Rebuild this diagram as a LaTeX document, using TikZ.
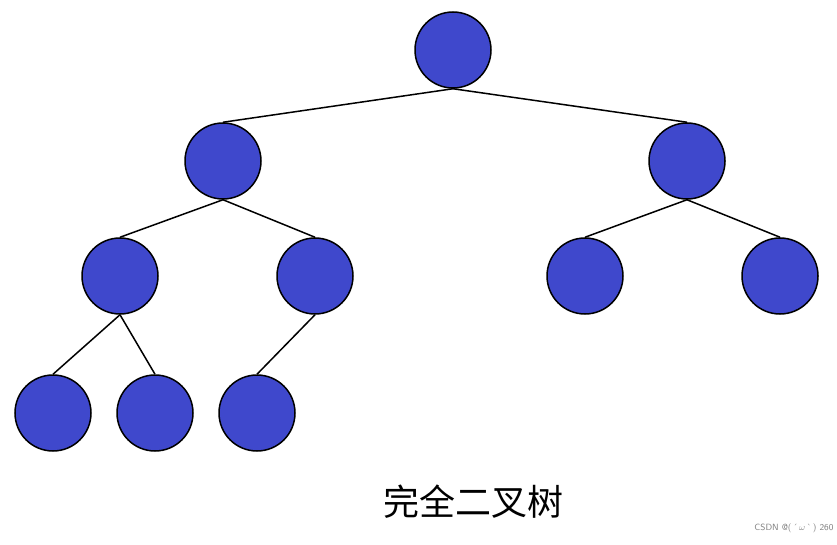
\documentclass[tikz,border=0pt]{standalone}
\usepackage{fontspec}
\newfontfamily\cjk{Noto Sans CJK SC}
\definecolor{nodeblue}{HTML}{3F48CC}
\begin{document}
\begin{tikzpicture}[x=1pt,y=-1pt,
  tn/.style={circle,draw=black,line width=1.5pt,fill=nodeblue,minimum size=76pt,inner sep=0pt},
  ed/.style={line width=1.5pt}]
\useasboundingbox (0,0) rectangle (837,545);
\node[tn] (r) at (453,50) {};
\node[tn] (a) at (223,161) {};
\node[tn] (b) at (687,161) {};
\node[tn] (aa) at (120,276) {};
\node[tn] (ab) at (315,276) {};
\node[tn] (ba) at (585,276) {};
\node[tn] (bb) at (780,276) {};
\node[tn] (aaa) at (53,413) {};
\node[tn] (aab) at (155,413) {};
\node[tn] (aba) at (257,413) {};
\foreach \p/\c in {r/a,r/b,a/aa,a/ab,b/ba,b/bb,aa/aaa,aa/aab,ab/aba}
  \draw[ed] (\p.south) -- (\c.north);
\node (t) at (473,502) {\cjk\fontsize{36pt}{40pt}\selectfont 完全二叉树};
\node[text=gray,anchor=east] (w) at (837,528) {\fontsize{9pt}{10pt}\selectfont\sffamily CSDN @(\,\textasciiacute\,$\omega$\,\textasciigrave\,) 260};
\end{tikzpicture}
\end{document}
